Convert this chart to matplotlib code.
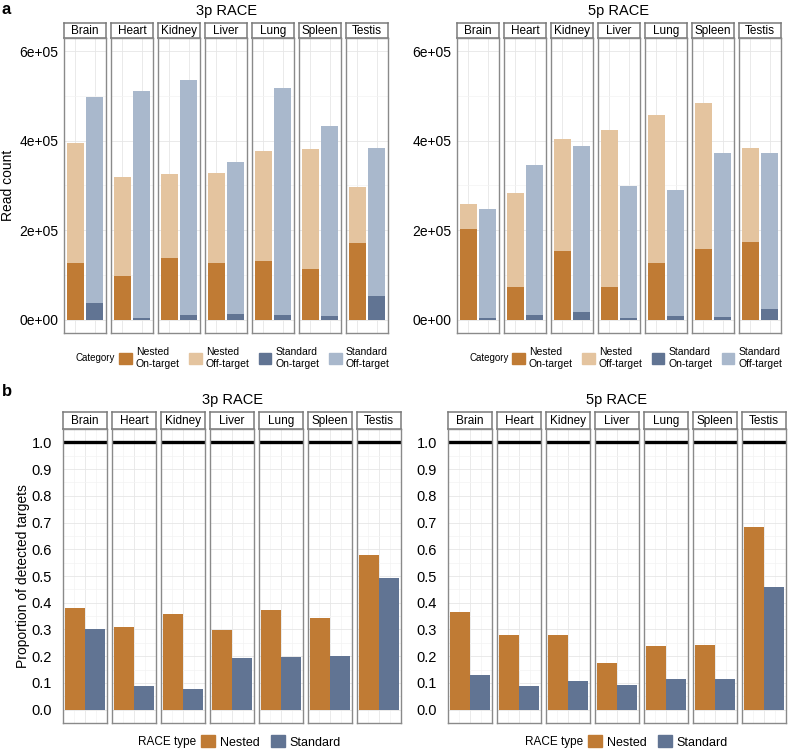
import matplotlib
matplotlib.use('Agg')
import matplotlib.pyplot as plt
from matplotlib.patches import Patch
from matplotlib.ticker import FixedLocator

plt.rcParams['font.family'] = ['Liberation Sans', 'DejaVu Sans']

tissues = ['Brain', 'Heart', 'Kidney', 'Liver', 'Lung', 'Spleen', 'Testis']

# panel a: read counts (stacked on-target + off-target)
nested_on_3p = [126000, 97000, 138000, 126000, 130000, 114000, 172000]
nested_off_3p = [270000, 223000, 188000, 201000, 247000, 267000, 124000]
standard_on_3p = [36000, 4000, 10000, 13000, 10000, 9000, 52000]
standard_off_3p = [463000, 507000, 526000, 340000, 508000, 425000, 332000]

nested_on_5p = [203000, 74000, 153000, 73000, 126000, 158000, 173000]
nested_off_5p = [56000, 209000, 251000, 351000, 332000, 326000, 210000]
standard_on_5p = [4000, 10000, 17000, 4000, 7000, 6000, 24000]
standard_off_5p = [244000, 335000, 371000, 295000, 284000, 366000, 348000]

# panel b: proportion of detected targets
nested_prop_3p = [0.381, 0.308, 0.358, 0.297, 0.374, 0.341, 0.580]
standard_prop_3p = [0.300, 0.090, 0.077, 0.192, 0.197, 0.199, 0.494]
nested_prop_5p = [0.367, 0.281, 0.281, 0.174, 0.239, 0.240, 0.684]
standard_prop_5p = [0.129, 0.087, 0.108, 0.092, 0.113, 0.113, 0.460]

c_non = '#c07b34'
c_noff = '#e4c49f'
c_son = '#617493'
c_soff = '#a9b8cc'
border = '#8a8a8a'
grid_major = '#e6e6e6'
grid_minor = '#f3f3f3'

W, H = 788, 750
fig = plt.figure(figsize=(W / 100, H / 100), dpi=100)


def px_axes(x, y, w, h):
    return fig.add_axes([x / W, 1 - (y + h) / H, w / W, h / H])


def strip(x, y, w, h, label):
    s = px_axes(x, y, w, h)
    s.set_xticks([])
    s.set_yticks([])
    for sp in s.spines.values():
        sp.set_color('#7a7a7a')
        sp.set_linewidth(1.1)
    s.text(0.5, 0.45, label, ha='center', va='center', fontsize=8.5, transform=s.transAxes)


def style_panel(ax):
    for sp in ax.spines.values():
        sp.set_color(border)
        sp.set_linewidth(1.0)
    ax.tick_params(axis='both', which='both', length=0)
    ax.tick_params(axis='x', labelbottom=False)
    ax.set_axisbelow(True)
    ax.grid(True, which='major', color=grid_major, linewidth=0.6)
    ax.grid(True, which='minor', axis='y', color=grid_minor, linewidth=0.5)


def read_row(x0, title, n_on, n_off, s_on, s_off, show_label):
    step, w = 47, 42
    top, sh, ph = 23, 15, 295
    for i, t in enumerate(tissues):
        x = x0 + i * step
        strip(x, top, w, sh, t)
        ax = px_axes(x, top + sh, w, ph)
        ax.bar(1, n_on[i], width=0.9, color=c_non)
        ax.bar(1, n_off[i], bottom=n_on[i], width=0.9, color=c_noff)
        ax.bar(2, s_on[i], width=0.9, color=c_son)
        ax.bar(2, s_off[i], bottom=s_on[i], width=0.9, color=c_soff)
        ax.set_xlim(0.4, 2.6)
        ax.set_ylim(-30000, 630000)
        ax.set_xticks([1, 2])
        ax.set_yticks([0, 200000, 400000, 600000])
        ax.yaxis.set_minor_locator(FixedLocator([100000, 300000, 500000]))
        style_panel(ax)
        if i == 0:
            ax.set_yticklabels(['0e+00', '2e+05', '4e+05', '6e+05'], fontsize=10)
            ax.tick_params(axis='y', pad=4)
            if show_label:
                ax.set_ylabel('Read count', fontsize=10, labelpad=3)
        else:
            ax.set_yticklabels([])
    cx = x0 + (6 * step + w) / 2
    fig.text(cx / W, 1 - 11 / H, title, ha='center', va='center', fontsize=10.5)
    # legend
    handles = [Patch(color=c_non), Patch(color=c_noff), Patch(color=c_son), Patch(color=c_soff)]
    labels = ['Nested\nOn-target', 'Nested\nOff-target', 'Standard\nOn-target', 'Standard\nOff-target']
    lx = x0 - 64 + 76
    fig.text(lx / W, 1 - 358 / H, 'Category', ha='left', va='center', fontsize=7)
    fig.legend(handles, labels, loc='center left', bbox_to_anchor=((lx + 43) / W, 1 - 358 / H),
               ncol=4, frameon=False, fontsize=7.5, handlelength=1.2, handleheight=1.2,
               handletextpad=0.4, columnspacing=0.9, borderpad=0, borderaxespad=0)


def prop_row(x0, title, nested, standard, show_label, lx):
    step, w = 49, 44
    top, sh, ph = 412, 17, 294
    for i, t in enumerate(tissues):
        x = x0 + i * step
        strip(x, top, w, sh, t)
        ax = px_axes(x, top + sh, w, ph)
        ax.bar(0.775, nested[i], width=0.45, color=c_non)
        ax.bar(1.225, standard[i], width=0.45, color=c_son)
        ax.axhline(1.0, color='black', linewidth=2.4)
        ax.set_xlim(0.513, 1.487)
        ax.set_ylim(-0.05, 1.05)
        ax.set_xticks([1])
        ax.xaxis.set_minor_locator(FixedLocator([0.75, 1.25]))
        ax.set_yticks([k / 10 for k in range(11)])
        ax.yaxis.set_minor_locator(FixedLocator([k / 10 + 0.05 for k in range(10)]))
        style_panel(ax)
        ax.grid(True, which='minor', axis='x', color=grid_minor, linewidth=0.5)
        if i == 0:
            ax.set_yticklabels([f'{k / 10:.1f}' for k in range(11)], fontsize=10.5)
            ax.tick_params(axis='y', pad=8)
            if show_label:
                ax.set_ylabel('Proportion of detected targets', fontsize=10, labelpad=1)
        else:
            ax.set_yticklabels([])
    cx = x0 + (6 * step + w) / 2
    fig.text(cx / W, 1 - 400 / H, title, ha='center', va='center', fontsize=10.5)
    fig.text(lx / W, 1 - 742 / H, 'RACE type', ha='left', va='center', fontsize=8.5)
    handles = [Patch(color=c_non), Patch(color=c_son)]
    fig.legend(handles, ['Nested', 'Standard'], loc='center left',
               bbox_to_anchor=((lx + 63) / W, 1 - 742 / H), ncol=2, frameon=False,
               fontsize=9, handlelength=1.1, handleheight=1.1, handletextpad=0.4,
               columnspacing=0.9, borderpad=0, borderaxespad=0)


read_row(64, '3p RACE', nested_on_3p, nested_off_3p, standard_on_3p, standard_off_3p, True)
read_row(457, '5p RACE', nested_on_5p, nested_off_5p, standard_on_5p, standard_off_5p, False)
prop_row(63, '3p RACE', nested_prop_3p, standard_prop_3p, True, 138)
prop_row(448, '5p RACE', nested_prop_5p, standard_prop_5p, False, 525)

fig.text(2 / W, 1 - 10 / H, 'a', fontsize=12, fontweight='bold', ha='left', va='center')
fig.text(2 / W, 1 - 392 / H, 'b', fontsize=12, fontweight='bold', ha='left', va='center')

plt.savefig('out.png', dpi=100)
